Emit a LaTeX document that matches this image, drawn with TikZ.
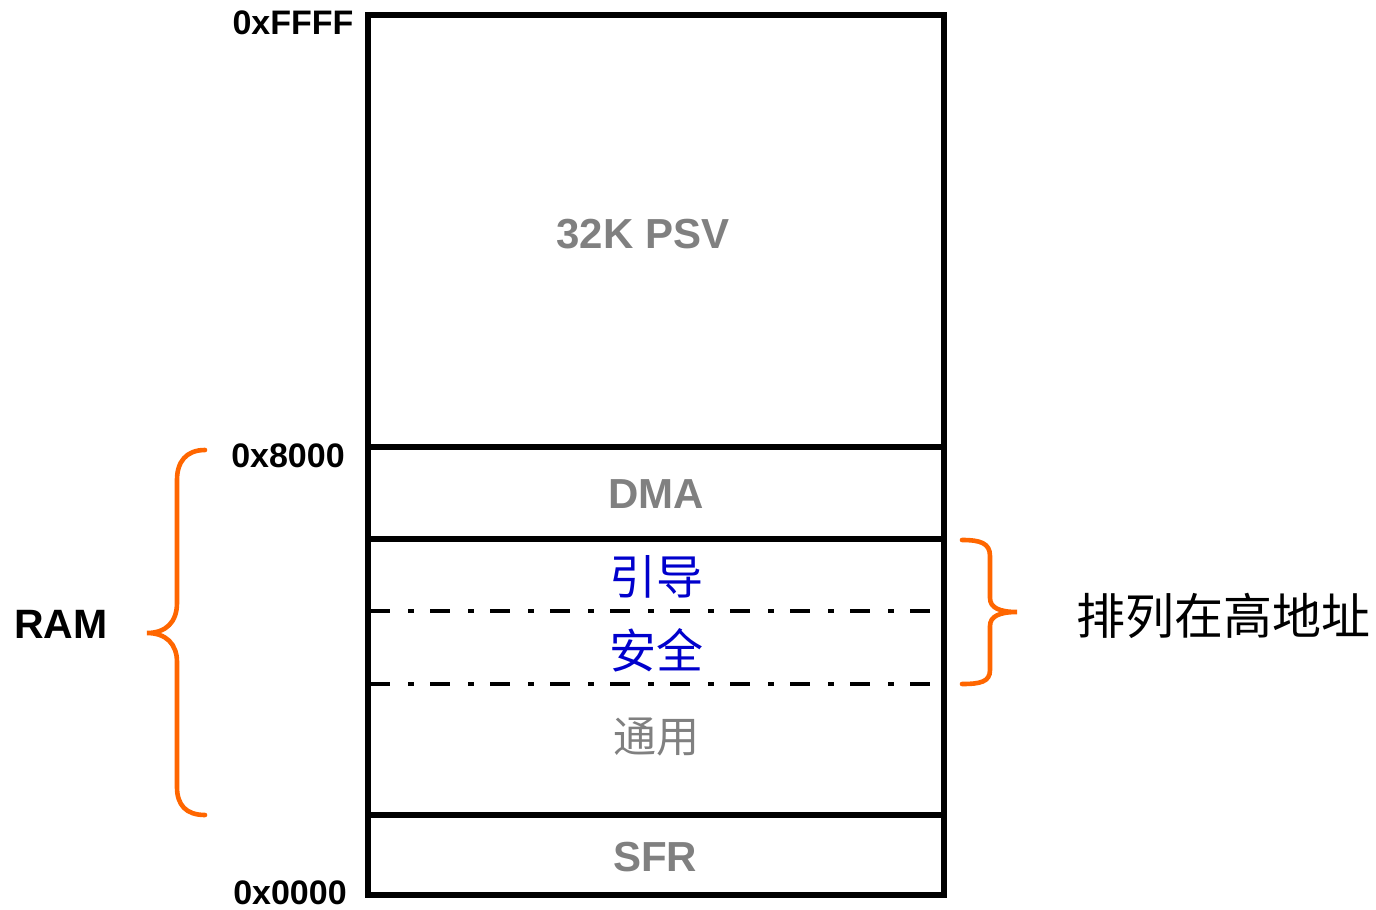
\documentclass[tikz,border=0pt]{standalone}
\usepackage{fontspec}
\setmainfont{Liberation Sans}
\newfontfamily\cjk{Noto Sans CJK SC}
\definecolor{braceorange}{HTML}{FF6600}
\definecolor{labelgray}{HTML}{808080}
\definecolor{cjkblue}{HTML}{0000CC}
\begin{document}
\begin{tikzpicture}[x=0.5pt,y=-0.5pt,
  boxline/.style={line width=2.7pt,black},
  dashdotline/.style={line width=2.2pt,black,dash pattern=on 10pt off 9pt on 3pt off 8pt},
  bracepath/.style={line width=2.3pt,braceorange,line cap=round},
  addrlabel/.style={font=\bfseries\fontsize{17}{20}\selectfont,inner sep=0pt},
  seglabel/.style={font=\bfseries\fontsize{21}{24}\selectfont,text=labelgray,inner sep=0pt},
  cjkblue/.style={font=\cjk\fontsize{23.5}{26}\selectfont,text=cjkblue,inner sep=0pt},
  cjkgray/.style={font=\cjk\fontsize{21.5}{24}\selectfont,text=labelgray,inner sep=0pt},
  cjkblack/.style={font=\cjk\fontsize{24.5}{27}\selectfont,text=black,inner sep=0pt}]
\useasboundingbox (0,0) rectangle (1376,910);
% memory map box
\coordinate (tl) at (368,15);
\coordinate (br) at (944,895);
\draw[boxline] (tl) rectangle (br);
\draw[boxline] (368,447) -- (944,447);
\draw[boxline] (368,539) -- (944,539);
\draw[boxline] (368,815) -- (944,815);
\draw[dashdotline] (370,611) -- (942,611);
\draw[dashdotline] (370,684) -- (942,684);
% address labels
\node[addrlabel] (aFFFF) at (293,23) {0xFFFF};
\node[addrlabel] (a8000) at (288,456) {0x8000};
\node[addrlabel] (a0000) at (290,893) {0x0000};
\node[font=\bfseries\fontsize{20.5}{23}\selectfont,inner sep=0pt] (ram) at (61,624) {RAM};
% segment labels
\node[seglabel] (psv) at (643,234) {32K PSV};
\node[seglabel] (dma) at (656,494) {DMA};
\node[cjkblue] (boot) at (656,577) {引导};
\node[cjkblue] (sec) at (656,650) {安全};
\node[cjkgray] (gen) at (656,737) {通用};
\node[seglabel] (sfr) at (655,857) {SFR};
\node[cjkblack] (high) at (1223,616) {排列在高地址};
% left brace
\draw[bracepath] (205,450) .. controls (186,450) and (177,462) .. (177,480)
  -- (177,603) .. controls (177,622) and (166,633) .. (147,633)
  .. controls (166,633) and (177,644) .. (177,662)
  -- (177,787) .. controls (177,805) and (186,815) .. (205,815);
% right brace
\draw[bracepath] (962,540) .. controls (980,540) and (990,543) .. (990,556)
  -- (990,598) .. controls (990,608) and (1000,612) .. (1017,612)
  .. controls (1000,612) and (990,616) .. (990,626)
  -- (990,670) .. controls (990,682) and (980,684) .. (962,684);
\end{tikzpicture}
\end{document}
